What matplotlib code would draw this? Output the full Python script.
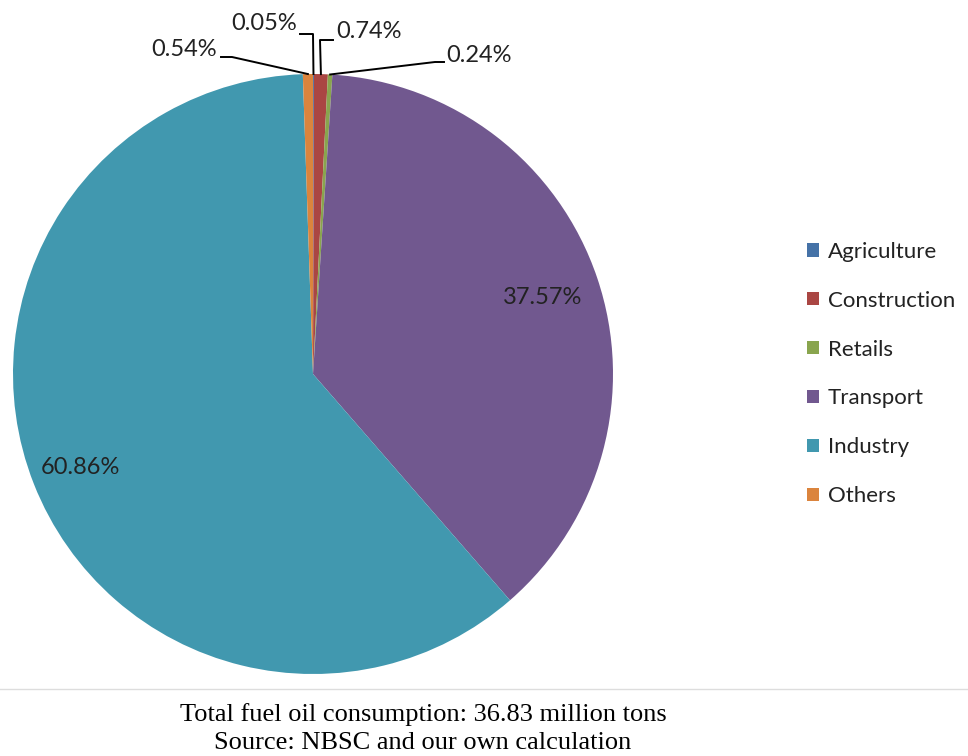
import numpy as np
import matplotlib.pyplot as plt
from matplotlib.patches import Patch
from matplotlib.lines import Line2D

sectors = ["Agriculture", "Construction", "Retails", "Transport", "Industry", "Others"]
shares = [0.05, 0.74, 0.24, 37.57, 60.86, 0.54]
colors = ["#4572A7", "#AA4643", "#89A54E", "#71588F", "#4198AF", "#DB843D"]
footer = ["Total fuel oil consumption: 36.83 million tons",
          "Source: NBSC and our own calculation"]

plt.rcParams['font.family'] = ['Lato', 'DejaVu Sans']

W, H = 968, 756
fig = plt.figure(figsize=(W / 100, H / 100), dpi=100)

# pie centre (313, 374) px, radius 300 px
cx, cy, r = 313, 374, 300
ax = fig.add_axes([(cx - r) / W, (H - cy - r) / H, 2 * r / W, 2 * r / H])
wedges, _ = ax.pie(shares, colors=colors, startangle=90, counterclock=False,
                   radius=1, wedgeprops=dict(linewidth=0))
ax.set_xlim(-1, 1)
ax.set_ylim(-1, 1)
ax.set_aspect('equal')
ax.axis('off')

def px(x, y):
    # pixel position -> data coords of the pie axes
    return (x - cx) / r, (cy - y) / r

def mid(w, rad=1.0):
    a = np.deg2rad((w.theta1 + w.theta2) / 2)
    return rad * np.cos(a), rad * np.sin(a)

# small slices: label + leader line (text pos, elbow pos, line end, alignment)
callouts = {
    0: ((297, 24), (313, 34), (300, 34), 'right'),
    1: ((336, 32), (320, 40), (333, 40), 'left'),
    2: ((446, 56), (435, 62), (444, 62), 'left'),
    5: ((217, 49), (232, 57), (221, 57), 'right'),
}
for i, (tpos, elb, end, ha) in callouts.items():
    x0, y0 = mid(wedges[i])
    ex, ey = px(*elb)
    nx, ny = px(*end)
    ax.plot([x0, ex, nx], [y0, ey, ny], color='black', lw=1.4, clip_on=False)
    tx, ty = px(*tpos)
    ax.text(tx, ty, f"{shares[i]:.2f}%", ha=ha, va='center', fontsize=17,
            color='#222222')

# big slices: labels inside
for i, pos in ((3, (543, 298)), (4, (80, 468))):
    tx, ty = px(*pos)
    ax.text(tx, ty, f"{shares[i]:.2f}%", ha='center', va='center',
            fontsize=17, color='#222222')

handles = [Patch(facecolor=c, edgecolor='none') for c in colors]
fig.legend(handles, sectors, loc='center left', bbox_to_anchor=(807 / W, 1 - 374 / H),
           frameon=False, fontsize=16, handlelength=0.55, handleheight=0.55,
           handletextpad=0.4, labelspacing=1.3, borderpad=0, borderaxespad=0,
           labelcolor='#222222')

fig.add_artist(Line2D([0, 1], [1 - 689 / H, 1 - 689 / H], color='#dddddd', lw=1))

for k, s in enumerate(footer):
    fig.text(423 / W, 1 - (715 + 28 * k) / H, s, ha='center', va='center',
             family='Liberation Serif', fontsize=19)

fig.savefig("out.png", dpi=100)
